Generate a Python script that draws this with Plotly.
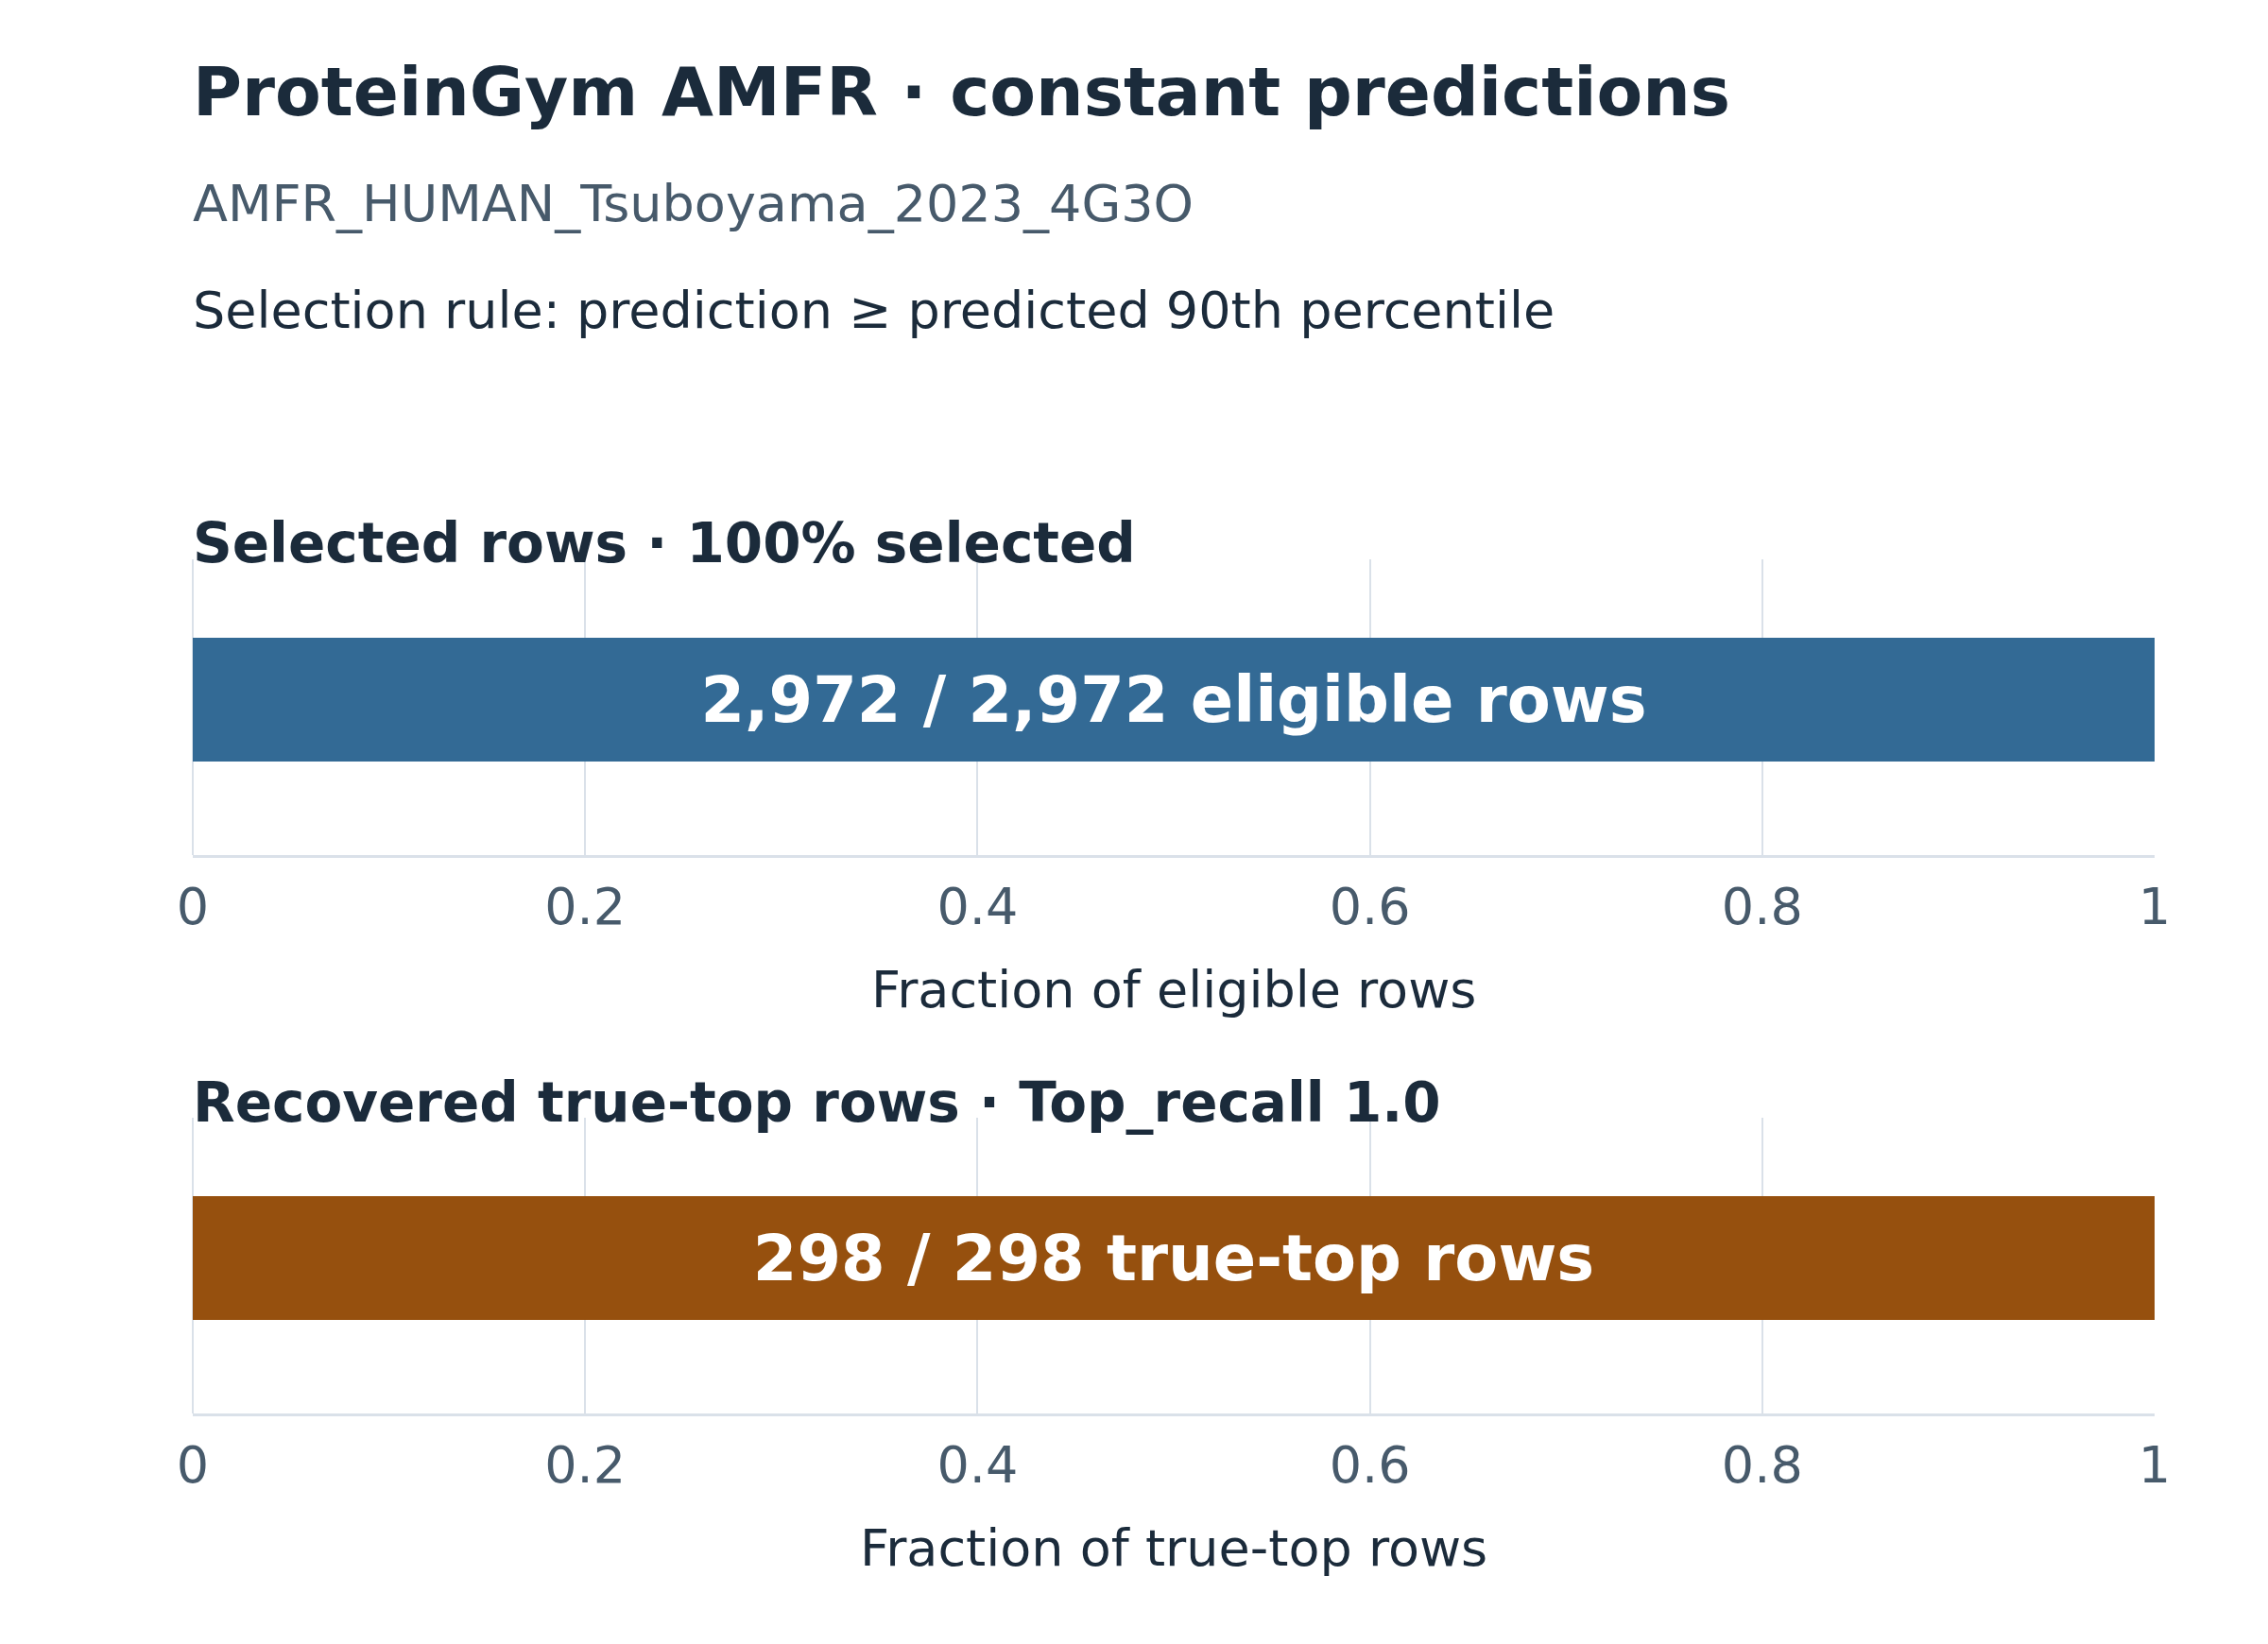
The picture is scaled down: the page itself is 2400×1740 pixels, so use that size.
import plotly.graph_objects as go

# %% dados
DATASET = "AMFR_HUMAN_Tsuboyama_2023_4G3O"
RULE = "Selection rule: prediction ≥ predicted 90th percentile"

panel_names = ["Selected rows", "Recovered true-top rows"]
numerators = [2972, 298]
denominators = [2972, 298]
unit_labels = ["eligible rows", "true-top rows"]
axis_titles = ["Fraction of eligible rows", "Fraction of true-top rows"]
top_recall = 1.0
tick_vals = [0, 0.2, 0.4, 0.6, 0.8, 1]
tick_text = ["0", "0.2", "0.4", "0.6", "0.8", "1"]

# %% estilo
W, H = 2400, 1740
FONT = "DejaVu Sans"
DARK = "#1b2b3b"
MUTED = "#475a6b"
GRID = "#dae1e9"
BAR_COLORS = ["#336a95", "#96500e"]
PAGE_OFFSET = 8  # margem padrão do <body>


def py(px):
    # pixel na tela (de cima) -> coordenada paper
    return 1 - (px - PAGE_OFFSET) / H


fractions = [n / d for n, d in zip(numerators, denominators)]
panel_titles = [
    f"{panel_names[0]} · {fractions[0] * 100:.0f}% selected",
    f"{panel_names[1]} · Top_recall {top_recall:.1f}",
]

# faixas verticais dos dois painéis (px na tela)
panels_px = [(592, 905), (1183, 1496)]

fig = go.Figure()

for i in range(2):
    xa = "x" if i == 0 else f"x{i + 1}"
    ya = "y" if i == 0 else f"y{i + 1}"
    fig.add_trace(go.Bar(
        x=[fractions[i]],
        y=[0],
        orientation="h",
        width=0.441,
        marker=dict(color=BAR_COLORS[i], line=dict(width=0)),
        text=[f"{numerators[i]:,} / {denominators[i]:,} {unit_labels[i]}"],
        textposition="inside",
        insidetextanchor="middle",
        textfont=dict(family=FONT, size=67, color="white", weight="bold"),
        hoverinfo="skip",
        xaxis=xa,
        yaxis=ya,
        showlegend=False,
    ))

layout_axes = {}
for i, (top, bot) in enumerate(panels_px):
    sx = "" if i == 0 else str(i + 1)
    layout_axes[f"xaxis{sx}"] = dict(
        domain=[0, 1],
        anchor=f"y{sx}",
        range=[0, 1],
        tickvals=tick_vals,
        ticktext=tick_text,
        tickfont=dict(family=FONT, size=54, color=MUTED),
        ticks="outside",
        ticklen=5,
        tickcolor="rgba(0,0,0,0)",
        showgrid=True,
        gridcolor=GRID,
        gridwidth=2,
        zeroline=True,
        zerolinecolor=GRID,
        zerolinewidth=2,
        showline=True,
        linecolor=GRID,
        linewidth=3,
        fixedrange=True,
    )
    layout_axes[f"yaxis{sx}"] = dict(
        domain=[py(bot), py(top)],
        anchor=f"x{sx}",
        range=[-0.554, 0.5],
        showticklabels=False,
        showgrid=False,
        zeroline=False,
        showline=False,
        fixedrange=True,
    )

annotations = [
    dict(text="<b>ProteinGym AMFR · constant predictions</b>",
         x=0, y=py(97), font=dict(size=71, color=DARK)),
    dict(text=DATASET, x=0, y=py(216), font=dict(size=54, color=MUTED)),
    dict(text=RULE, x=0, y=py(329), font=dict(size=54, color=DARK)),
    dict(text=f"<b>{panel_titles[0]}</b>", x=0, y=py(575),
         font=dict(size=58, color=DARK)),
    dict(text=f"<b>{panel_titles[1]}</b>", x=0, y=py(1167),
         font=dict(size=58, color=DARK)),
    dict(text=axis_titles[0], x=0.5, y=py(1047), xanchor="center",
         font=dict(size=54, color=DARK)),
    dict(text=axis_titles[1], x=0.5, y=py(1638), xanchor="center",
         font=dict(size=54, color=DARK)),
]
for a in annotations:
    a.setdefault("xanchor", "left")
    a.update(xref="paper", yref="paper", yanchor="middle", showarrow=False)
    if a["xanchor"] == "left":
        a["xshift"] = -2
    a["font"]["family"] = FONT

fig.update_layout(
    width=W,
    height=H,
    margin=dict(l=204 - PAGE_OFFSET, r=128, t=0, b=0),
    paper_bgcolor="white",
    plot_bgcolor="white",
    font=dict(family=FONT, color=DARK),
    annotations=annotations,
    bargap=0,
    **layout_axes,
)

fig.write_html("out.html")
